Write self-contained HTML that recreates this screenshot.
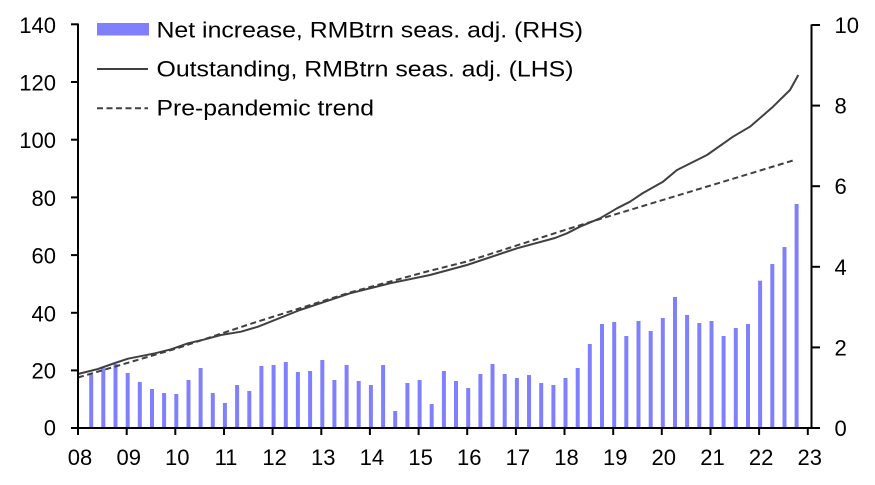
<!DOCTYPE html>
<html>
<head>
<meta charset="utf-8">
<style>
  html, body { margin: 0; padding: 0; background: #ffffff; }
  svg { display: block; }
  text { font-family: "Liberation Sans", Arial, sans-serif; fill: #000; }
</style>
</head>
<body>
<svg width="875" height="485" viewBox="0 0 875 485" xmlns="http://www.w3.org/2000/svg">
  <rect x="0" y="0" width="875" height="485" fill="#ffffff"/>

  <g fill="#8080FF">
    <rect x="89.2" y="374.3" width="4" height="53.7"/>
    <rect x="101.3" y="368.3" width="4" height="59.7"/>
    <rect x="113.5" y="364" width="4" height="64"/>
    <rect x="125.7" y="373" width="4" height="55"/>
    <rect x="137.8" y="382" width="4" height="46"/>
    <rect x="150" y="389" width="4" height="39"/>
    <rect x="162.1" y="393" width="4" height="35"/>
    <rect x="174.3" y="394" width="4" height="34"/>
    <rect x="186.5" y="380" width="4" height="48"/>
    <rect x="198.6" y="368" width="4" height="60"/>
    <rect x="210.8" y="393" width="4" height="35"/>
    <rect x="222.9" y="403" width="4" height="25"/>
    <rect x="235.1" y="385" width="4" height="43"/>
    <rect x="247.3" y="391" width="4" height="37"/>
    <rect x="259.4" y="366" width="4" height="62"/>
    <rect x="271.6" y="365" width="4" height="63"/>
    <rect x="283.8" y="362" width="4" height="66"/>
    <rect x="295.9" y="372" width="4" height="56"/>
    <rect x="308.1" y="371" width="4" height="57"/>
    <rect x="320.3" y="360" width="4" height="68"/>
    <rect x="332.4" y="380" width="4" height="48"/>
    <rect x="344.6" y="365" width="4" height="63"/>
    <rect x="356.7" y="381" width="4" height="47"/>
    <rect x="368.9" y="385" width="4" height="43"/>
    <rect x="381.1" y="365" width="4" height="63"/>
    <rect x="393.2" y="411" width="4" height="17"/>
    <rect x="405.4" y="383" width="4" height="45"/>
    <rect x="417.6" y="380" width="4" height="48"/>
    <rect x="429.7" y="404" width="4" height="24"/>
    <rect x="441.9" y="371" width="4" height="57"/>
    <rect x="454" y="381" width="4" height="47"/>
    <rect x="466.2" y="388" width="4" height="40"/>
    <rect x="478.4" y="374" width="4" height="54"/>
    <rect x="490.5" y="364" width="4" height="64"/>
    <rect x="502.7" y="374" width="4" height="54"/>
    <rect x="514.9" y="378" width="4" height="50"/>
    <rect x="527" y="375" width="4" height="53"/>
    <rect x="539.2" y="383" width="4" height="45"/>
    <rect x="551.4" y="385" width="4" height="43"/>
    <rect x="563.5" y="378" width="4" height="50"/>
    <rect x="575.7" y="368" width="4" height="60"/>
    <rect x="587.8" y="344" width="4" height="84"/>
    <rect x="600" y="324" width="4" height="104"/>
    <rect x="612.2" y="322" width="4" height="106"/>
    <rect x="624.3" y="336" width="4" height="92"/>
    <rect x="636.5" y="321" width="4" height="107"/>
    <rect x="648.7" y="331" width="4" height="97"/>
    <rect x="660.8" y="318" width="4" height="110"/>
    <rect x="673" y="297" width="4" height="131"/>
    <rect x="685.1" y="315" width="4" height="113"/>
    <rect x="697.3" y="323" width="4" height="105"/>
    <rect x="709.5" y="321" width="4" height="107"/>
    <rect x="721.6" y="336" width="4" height="92"/>
    <rect x="733.8" y="328" width="4" height="100"/>
    <rect x="746" y="324" width="4" height="104"/>
    <rect x="758.1" y="280.7" width="4" height="147.3"/>
    <rect x="770.3" y="264" width="4" height="164"/>
    <rect x="782.5" y="247" width="4" height="181"/>
    <rect x="794.6" y="204" width="4" height="224"/>
  </g>

  <polyline fill="none" stroke="#404040" stroke-width="2" stroke-dasharray="6 3.5"
    points="78,377.5 178,348 250,324 350,292.5 427,271.5 467,261.5 567,229.3 600,219 643,206 693,190.8 743,175.7 796,159.6"/>

  <polyline fill="none" stroke="#404040" stroke-width="2" stroke-linejoin="round"
    points="78,374 98,369 115,363 128,358.7 138,356.7 155,353.3 171,349.3 188,343.3 205,339.3 221,335 241,331.7 258,326.7 300,310 350,293.3 390,283.3 430,275 467,265 517,248.3 555,238 567,233.3 580,226.7 600,218.3 617,208.3 630,201.7 643,193 663,181.7 677,170 707,155 733,136.7 750,126.7 773,106.7 790,90 798.3,75"/>

  <g stroke="#000" stroke-width="2" fill="none">
    <line x1="78" y1="23.5" x2="78" y2="429"/>
    <line x1="77" y1="428" x2="812.5" y2="428"/>
    <line x1="811.5" y1="24.5" x2="811.5" y2="429"/>
    <line x1="71" y1="24.3" x2="78" y2="24.3"/>
    <line x1="71" y1="82" x2="78" y2="82"/>
    <line x1="71" y1="139.7" x2="78" y2="139.7"/>
    <line x1="71" y1="197.4" x2="78" y2="197.4"/>
    <line x1="71" y1="255.1" x2="78" y2="255.1"/>
    <line x1="71" y1="312.8" x2="78" y2="312.8"/>
    <line x1="71" y1="370.4" x2="78" y2="370.4"/>
    <line x1="71" y1="428" x2="78" y2="428"/>
    <line x1="811.5" y1="25" x2="820" y2="25"/>
    <line x1="811.5" y1="105.6" x2="820" y2="105.6"/>
    <line x1="811.5" y1="186.2" x2="820" y2="186.2"/>
    <line x1="811.5" y1="266.8" x2="820" y2="266.8"/>
    <line x1="811.5" y1="347.4" x2="820" y2="347.4"/>
    <line x1="811.5" y1="428" x2="820" y2="428"/>
    <line x1="78" y1="428" x2="78" y2="435"/>
    <line x1="126.7" y1="428" x2="126.7" y2="435"/>
    <line x1="175.3" y1="428" x2="175.3" y2="435"/>
    <line x1="224" y1="428" x2="224" y2="435"/>
    <line x1="272.6" y1="428" x2="272.6" y2="435"/>
    <line x1="321.3" y1="428" x2="321.3" y2="435"/>
    <line x1="369.9" y1="428" x2="369.9" y2="435"/>
    <line x1="418.6" y1="428" x2="418.6" y2="435"/>
    <line x1="467.2" y1="428" x2="467.2" y2="435"/>
    <line x1="515.9" y1="428" x2="515.9" y2="435"/>
    <line x1="564.5" y1="428" x2="564.5" y2="435"/>
    <line x1="613.2" y1="428" x2="613.2" y2="435"/>
    <line x1="661.8" y1="428" x2="661.8" y2="435"/>
    <line x1="710.5" y1="428" x2="710.5" y2="435"/>
    <line x1="759.1" y1="428" x2="759.1" y2="435"/>
    <line x1="807.8" y1="428" x2="807.8" y2="435"/>
  </g>

  <g font-size="22" text-anchor="end">
    <text x="56" y="32.8">140</text>
    <text x="56" y="90.5">120</text>
    <text x="56" y="148.2">100</text>
    <text x="56" y="205.9">80</text>
    <text x="56" y="263.6">60</text>
    <text x="56" y="321.3">40</text>
    <text x="56" y="378.6">20</text>
    <text x="56" y="435.5">0</text>
  </g>

  <g font-size="22" text-anchor="start">
    <text x="834.5" y="33">10</text>
    <text x="834.5" y="113.6">8</text>
    <text x="834.5" y="194.2">6</text>
    <text x="834.5" y="274.8">4</text>
    <text x="834.5" y="355.4">2</text>
    <text x="834.5" y="436">0</text>
  </g>

  <g font-size="22" text-anchor="middle">
    <text x="80" y="465">08</text>
    <text x="128.7" y="465">09</text>
    <text x="177.3" y="465">10</text>
    <text x="226" y="465">11</text>
    <text x="274.6" y="465">12</text>
    <text x="323.3" y="465">13</text>
    <text x="371.9" y="465">14</text>
    <text x="420.6" y="465">15</text>
    <text x="469.2" y="465">16</text>
    <text x="517.9" y="465">17</text>
    <text x="566.5" y="465">18</text>
    <text x="615.2" y="465">19</text>
    <text x="663.8" y="465">20</text>
    <text x="712.5" y="465">21</text>
    <text x="761.1" y="465">22</text>
    <text x="809.8" y="465">23</text>
  </g>

  <rect x="97" y="23" width="52" height="12.5" fill="#8080FF"/>
  <line x1="97" y1="69" x2="148" y2="69" stroke="#404040" stroke-width="2"/>
  <line x1="97" y1="108.3" x2="148" y2="108.3" stroke="#404040" stroke-width="2" stroke-dasharray="6 3.5"/>
  <g font-size="22">
    <text x="156.5" y="37.5" textLength="426.5" lengthAdjust="spacingAndGlyphs">Net increase, RMBtrn seas. adj. (RHS)</text>
    <text x="156.5" y="76.5" textLength="417" lengthAdjust="spacingAndGlyphs">Outstanding, RMBtrn seas. adj. (LHS)</text>
    <text x="156.5" y="115.5" textLength="217.5" lengthAdjust="spacingAndGlyphs">Pre-pandemic trend</text>
  </g>
</svg>
</body>
</html>
